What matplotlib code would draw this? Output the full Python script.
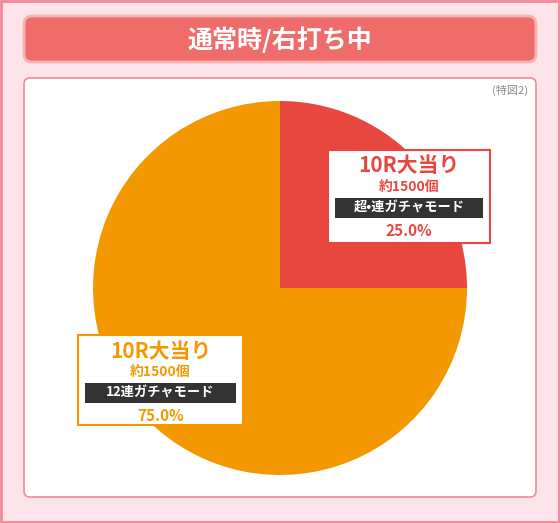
import matplotlib.pyplot as plt
from matplotlib.patches import FancyBboxPatch, Rectangle

plt.rcParams['font.family'] = ['Noto Sans CJK JP', 'DejaVu Sans']

title = "通常時/右打ち中"
note = "(特図2)"
labels = ["10R大当り", "10R大当り"]
payouts = ["約1500個", "約1500個"]
modes = ["超•連ガチャモード", "12連ガチャモード"]
shares = [25.0, 75.0]
colors = ["#e8473f", "#f39800"]

W, H = 560, 523
fig = plt.figure(figsize=(W / 100, H / 100), dpi=100, facecolor="#fde3ea")
bg = fig.add_axes([0, 0, 1, 1])
bg.set_xlim(0, W)
bg.set_ylim(H, 0)
bg.axis("off")

bg.add_patch(Rectangle((1, 1), W - 2, H - 2, fill=False, ec="#f08a9a", lw=2))
bg.add_patch(FancyBboxPatch((24, 16), 512, 46, boxstyle="round,pad=0,rounding_size=8",
                            fc="#ee6c6a", ec="#f6b3b3", lw=2))
bg.text(280, 40, title, ha="center", va="center", color="white",
        fontsize=18, fontweight="bold")
bg.add_patch(FancyBboxPatch((24, 78), 512, 419, boxstyle="round,pad=0,rounding_size=6",
                            fc="white", ec="#f08a9a", lw=1.2))
bg.text(528, 90, note, ha="right", va="center", color="#888888", fontsize=8)

# pie
cx, cy, r = 280, 288, 187
pa = fig.add_axes([(cx - r) / W, (H - cy - r) / H, 2 * r / W, 2 * r / H])
pa.pie(shares, colors=colors, startangle=90, counterclock=False,
       wedgeprops=dict(linewidth=0))
pa.set_xlim(-1, 1)
pa.set_ylim(-1, 1)
pa.set_aspect("auto")
pa.axis("off")

# label boxes on top
ov = fig.add_axes([0, 0, 1, 1])
ov.set_xlim(0, W)
ov.set_ylim(H, 0)
ov.axis("off")
ov.patch.set_alpha(0)

boxes = [(328, 150, 162, 93), (78, 335, 165, 90)]
for i, (x, y, w, h) in enumerate(boxes):
    c = colors[i]
    ov.add_patch(Rectangle((x, y), w, h, fc="white", ec=c, lw=1.5, zorder=3))
    mx = x + w / 2
    ov.text(mx, y + 16, labels[i], ha="center", va="center", color=c,
            fontsize=15, fontweight="bold", zorder=4)
    ov.text(mx, y + 37, payouts[i], ha="center", va="center", color=c,
            fontsize=10, fontweight="bold", zorder=4)
    ov.add_patch(Rectangle((x + 7, y + 48), w - 14, 20, fc="#333333", ec="none", zorder=4))
    ov.text(mx, y + 58, modes[i], ha="center", va="center", color="white",
            fontsize=9.5, fontweight="bold", zorder=5)
    ov.text(mx, y + 81, f"{shares[i]:.1f}%", ha="center", va="center", color=c,
            fontsize=11, fontweight="bold", zorder=4)

fig.savefig("out.png", dpi=100, facecolor=fig.get_facecolor())
